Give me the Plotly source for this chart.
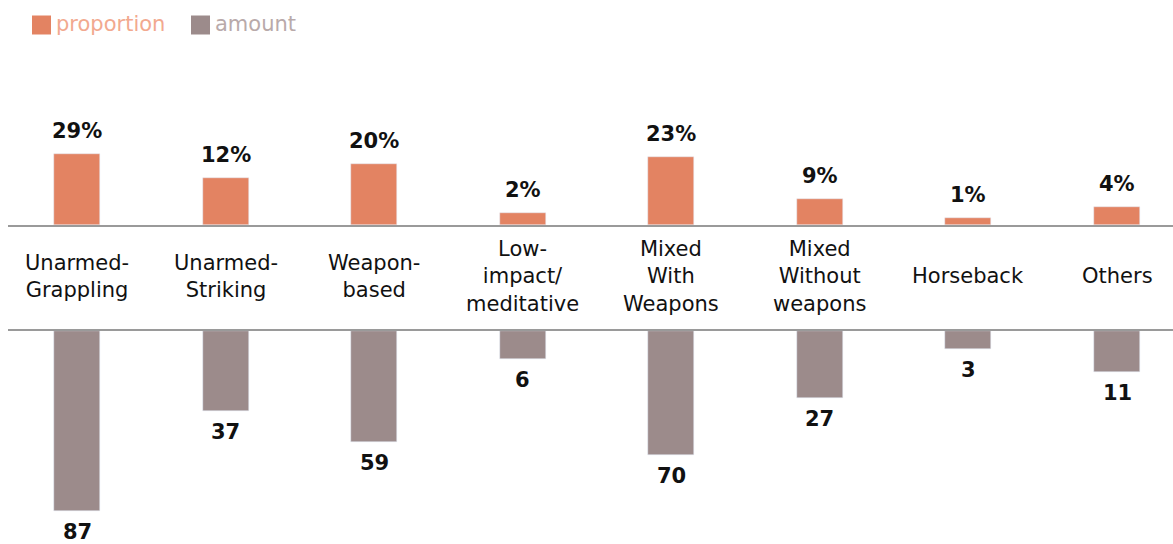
import plotly.graph_objects as go

# ---- data ----
categories = ["Unarmed-<br>Grappling", "Unarmed-<br>Striking", "Weapon-<br>based",
              "Low-<br>impact/<br>meditative", "Mixed<br>With<br>Weapons",
              "Mixed<br>Without<br>weapons", "Horseback", "Others"]
proportion_labels = ["29%", "12%", "20%", "2%", "23%", "9%", "1%", "4%"]
amount_labels = ["87", "37", "59", "6", "70", "27", "3", "11"]
# bar lengths as drawn in the reference (top scaled to largest = 29, bottom to largest = 87)
proportion_bars = [29.0, 19.2, 24.9, 5.1, 28.0, 10.6, 3.0, 7.5]
amount_bars = [87.0, 38.5, 53.6, 13.5, 59.9, 32.4, 8.7, 19.8]

ORANGE = "#E38362"
GREY = "#9C8B8B"
ORANGE_TXT = "#F2A98F"
GREY_TXT = "#B9AAAA"
LINE = "#9A9A9A"

W, H = 1173, 544
x = list(range(len(categories)))

fig = go.Figure()
fig.add_trace(go.Bar(x=x, y=proportion_bars, marker_color=ORANGE, width=0.31,
                     xaxis="x", yaxis="y", name="proportion", showlegend=False,
                     hoverinfo="skip"))
fig.add_trace(go.Bar(x=x, y=amount_bars, marker_color=GREY, width=0.31,
                     xaxis="x2", yaxis="y2", name="amount", showlegend=False,
                     hoverinfo="skip"))

ann = []
num_font = dict(family="DejaVu Sans", size=21, color="#111111", weight="bold")
for i, (v, t) in enumerate(zip(proportion_bars, proportion_labels)):
    ann.append(dict(x=i, y=v, xref="x", yref="y", text=t, showarrow=False,
                    yanchor="bottom", yshift=9, font=num_font))
for i, (v, t) in enumerate(zip(amount_bars, amount_labels)):
    ann.append(dict(x=i, y=v, xref="x2", yref="y2", text=t, showarrow=False,
                    yanchor="top", yshift=-7, font=num_font))
for i, c in enumerate(categories):
    ann.append(dict(x=i, y=(H - 276) / H, xref="x", yref="paper", text=c,
                    showarrow=False, yanchor="middle",
                    font=dict(family="DejaVu Sans", size=21, color="#111111")))

# manual legend
legend_items = [("proportion", ORANGE, ORANGE_TXT, 32), ("amount", GREY, GREY_TXT, 191)]
shapes = []
for name, col, tcol, x0 in legend_items:
    shapes.append(dict(type="rect", xref="paper", yref="paper",
                       x0=x0 / W, x1=(x0 + 19) / W, y0=(H - 34.5) / H, y1=(H - 15.5) / H,
                       fillcolor=col, line_width=0))
    ann.append(dict(x=(x0 + 22) / W, y=(H - 24) / H, xref="paper", yref="paper",
                    text=name, showarrow=False, xanchor="left", yanchor="middle",
                    font=dict(family="DejaVu Sans", size=21, color=tcol)))

px_top = 71 / 29.0
px_bot = 180 / 87.0
top_base = 225.3
bot_base = 331.0
xr = [-69 / 148.57, 7 + 56 / 148.57]

fig.update_layout(
    width=W, height=H, margin=dict(l=0, r=0, t=0, b=0),
    paper_bgcolor="white", plot_bgcolor="white",
    bargap=0, showlegend=False,
    xaxis=dict(domain=[8 / W, 1], range=xr, anchor="y", showline=True,
               linecolor=LINE, linewidth=1.5, showticklabels=False, ticks="",
               showgrid=False, zeroline=False),
    yaxis=dict(domain=[(H - top_base) / H, 1], range=[0, top_base / px_top],
               visible=False, showgrid=False, zeroline=False),
    xaxis2=dict(domain=[8 / W, 1], range=xr, anchor="y2", side="top", showline=True,
                linecolor=LINE, linewidth=1.5, showticklabels=False, ticks="",
                showgrid=False, zeroline=False),
    yaxis2=dict(domain=[0, (H - bot_base) / H], range=[(H - bot_base) / px_bot, 0],
                visible=False, showgrid=False, zeroline=False),
    annotations=ann, shapes=shapes,
)

fig.write_html("out.html")
